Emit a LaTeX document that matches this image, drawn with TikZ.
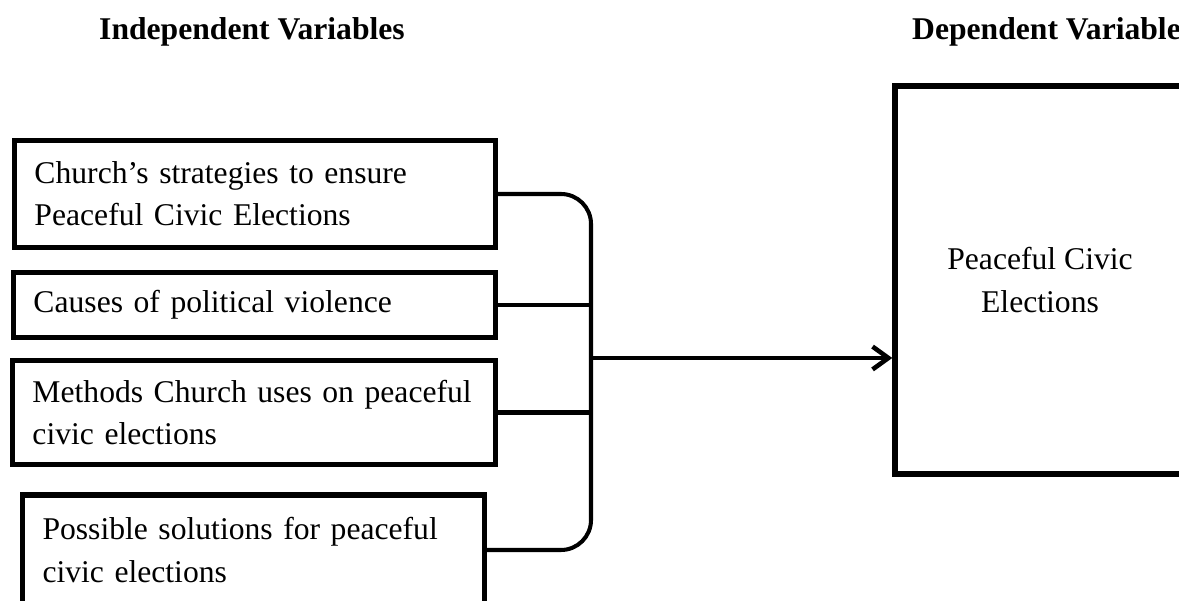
\documentclass[tikz,border=0pt]{standalone}
\usepackage{fontspec}
\setmainfont{Liberation Serif}
\usetikzlibrary{positioning, arrows.meta}

\begin{document}
\begin{tikzpicture}[
        ivbox/.style={rectangle, draw, line width=3.1pt, inner xsep=0.4cm, inner ysep=0pt, align=left, font=\fontsize{18}{24}\selectfont},
        dvbox/.style={rectangle, draw, line width=3.1pt, align=center, font=\fontsize{18}{24.4}\selectfont},
        head/.style={font=\fontsize{18}{20}\selectfont\bfseries},
        link/.style={line width=2.3pt},
        arrow/.style={-{Straight Barb[length=9pt,width=13pt]}, line width=2.6pt}
    ]
        \useasboundingbox (0,0) rectangle (23.58,-12.02);
        \clip (0,0) rectangle (23.58,-12.02);

        % Headings
        \node[head, anchor=base] (h_iv) at (5.04,-0.80) {Independent Variables};
        \node[head, anchor=base west] (h_dv) at (18.12,-0.80) {Dependent Variable};

        % Independent variables
        \node[ivbox, text width=8.82cm, minimum height=2.14cm] (iv_strat) at (5.10,-3.88) {Church’s strategies to ensure\\Peaceful Civic Elections};
        \node[ivbox, text width=8.84cm, minimum height=1.30cm] (iv_cause) at (5.09,-6.10) {Causes of political violence};
        \node[ivbox, text width=8.86cm, minimum height=2.08cm] (iv_meth) at (5.08,-8.25) {Methods Church uses on peaceful\\civic elections};
        \node[ivbox, text width=8.44cm, minimum height=2.20cm] (iv_sol) at (5.07,-11.00) {Possible solutions for peaceful\\civic elections};

        % Dependent variable
        \node[dvbox, minimum width=5.8cm, minimum height=7.76cm] (dv) at (20.80,-5.60) {Peaceful Civic\\Elections};

        % Connections
        \coordinate (jn) at (11.82,-7.16);
        \draw[link, rounded corners=0.6cm] (iv_strat.east) -| (jn) |- (iv_sol.east);
        \draw[link] (iv_cause.east) -- (iv_cause.east -| jn);
        \draw[link] (iv_meth.east) -- (iv_meth.east -| jn);
        \draw[arrow] (jn) -- (dv.west |- jn);
    \end{tikzpicture}
\end{document}
